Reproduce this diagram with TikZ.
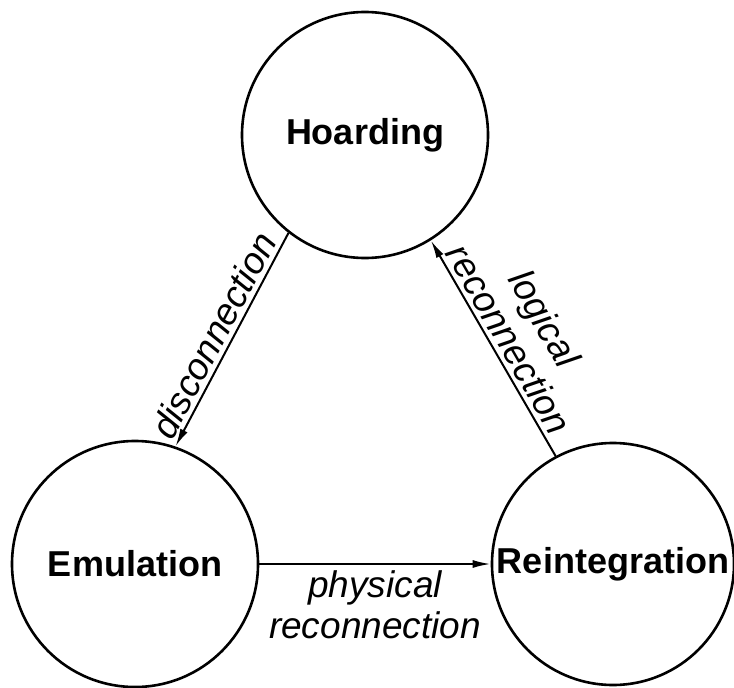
\documentclass[tikz,border=0pt]{standalone}
\usepackage{fontspec}
\setmainfont{Liberation Sans}
\usetikzlibrary{arrows.meta}
\tikzset{
  node-phase/.style={draw,circle,line width=2.6bp,inner sep=0pt,
    minimum size=246bp,font=\fontsize{36bp}{38bp}\selectfont\bfseries},
  arrow/.style={-{Latex[length=18bp,width=8bp]},line width=2bp},
  edge-label/.style={font=\fontsize{37bp}{41bp}\selectfont\itshape,
    align=center,inner sep=4bp},
}

\begin{document}
\begin{tikzpicture}[x=1bp,y=-1bp]
  \useasboundingbox (0,0) rectangle (734,688);
  \node[node-phase] (hoard) at (365,135) {Hoarding};
  \node[node-phase] (emul)  at (135,564) {Emulation};
  \node[node-phase,minimum size=242bp] (reint) at (613,564) {Reintegration};
  \draw[arrow] (hoard.232) -- node[edge-label,sloped,above,pos=0.52] {disconnection} (emul.71);
  \draw[arrow] (reint.118) -- node[edge-label,sloped,above] {logical\\reconnection} (hoard.302);
  \draw[arrow] (emul.east) -- node[edge-label,below,inner sep=6bp] {physical\\reconnection} (reint.west);
\end{tikzpicture}
\end{document}
